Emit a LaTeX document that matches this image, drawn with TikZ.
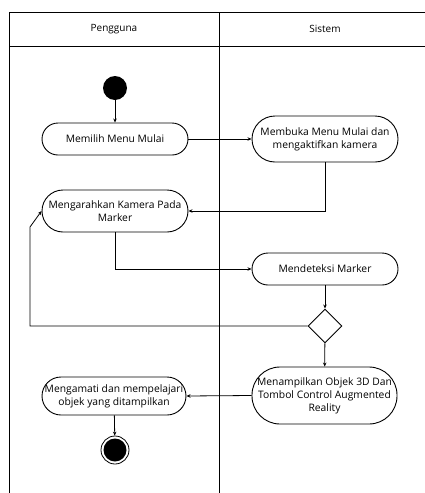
\documentclass[tikz,border=0pt]{standalone}
\usepackage{fontspec}
\setmainfont{Open Sans}
\usetikzlibrary{shapes.geometric,arrows.meta}
\begin{document}
\begin{tikzpicture}[x=1pt,y=-1pt,
  act/.style={draw, line width=0.9pt, rounded corners=#1, align=center, font=\fontsize{10.3}{13}\selectfont, inner sep=0pt},
  flow/.style={draw, line width=0.8pt, -{Stealth[length=4pt,width=3.5pt]}},
  lane/.style={line width=0.9pt}]
\useasboundingbox (0,0) rectangle (425,493);
% swimlanes
\draw[lane] (425,12) -- (9,12) -- (9,493);
\draw[lane] (9,46) -- (425,46);
\draw[lane] (219,12) -- (219,493);
\node[font=\fontsize{10}{12}\selectfont] (hp) at (114,29) {Pengguna};
\node[font=\fontsize{10}{12}\selectfont] (hs) at (325,29) {Sistem};
% nodes
\node[circle, fill=black, minimum size=24pt, inner sep=0pt] (start) at (115,88) {};
\node[act=16pt, minimum width=146pt, minimum height=32pt] (a1) at (115,139) {Memilih Menu Mulai};
\node[act=23pt, minimum width=146pt, minimum height=46pt] (a2) at (325,139) {Membuka Menu Mulai dan\\mengaktifkan kamera};
\node[act=21pt, minimum width=146pt, minimum height=42pt] (a3) at (115,211) {Mengarahkan Kamera Pada\\Marker};
\node[act=16pt, minimum width=146pt, minimum height=32pt] (a4) at (325,269) {Mendeteksi Marker};
\node[diamond, draw, line width=0.9pt, minimum width=34pt, minimum height=34pt, inner sep=0pt] (dec) at (325,326) {};
\node[act=28pt, minimum width=145pt, minimum height=57pt] (a5) at (324.5,395.5) {Menampilkan Objek 3D Dan\\Tombol Control Augmented\\Reality};
\node[act=19pt, minimum width=144pt, minimum height=38pt] (a6) at (114,396) {Mengamati dan mempelajari\\objek yang ditampilkan};
\node[circle, draw, line width=0.8pt, minimum size=28pt, inner sep=0pt] (endo) at (115,450) {};
\node[circle, fill=black, minimum size=23pt, inner sep=0pt] (endi) at (115,450) {};
\coordinate (c1) at (30,326);
\coordinate (c2) at (30,227);
% connectors
\draw[flow] (start) -- (a1);
\draw[flow] (a1) -- (a2);
\draw[flow] (a2.south) |- (a3.east);
\draw[flow] (a3.south) |- (a4.west);
\draw[flow] (a4) -- (dec);
\draw[flow] (dec.west) -- (c1) -- (c2) -- (a3.west);
\draw[flow] (dec) -- (a5);
\draw[flow] (a5.west) -- (a6.east);
\draw[flow] (a6) -- (endo);
\end{tikzpicture}
\end{document}
